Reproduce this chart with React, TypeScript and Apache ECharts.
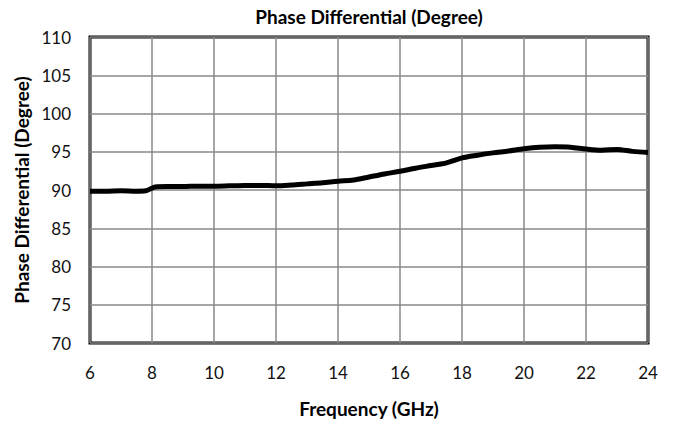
import React, { useEffect, useRef } from "react";
import * as echarts from "echarts";

const frequency = [6, 6.5, 7, 7.5, 7.8, 8.1, 8.5, 9, 9.5, 10, 10.5, 11, 11.5, 12, 12.5, 13, 13.5, 14, 14.5, 15, 15.5, 16, 16.5, 17, 17.5, 18, 18.5, 19, 19.5, 20, 20.5, 21, 21.5, 22, 22.5, 23, 23.5, 24];
const phase = [89.85, 89.85, 89.9, 89.85, 89.9, 90.4, 90.45, 90.45, 90.5, 90.5, 90.55, 90.6, 90.6, 90.55, 90.65, 90.8, 90.95, 91.15, 91.3, 91.7, 92.1, 92.45, 92.85, 93.2, 93.55, 94.2, 94.55, 94.85, 95.1, 95.4, 95.6, 95.65, 95.6, 95.35, 95.2, 95.3, 95.05, 94.9];

const FONT = "Lato, 'Open Sans', sans-serif";

export default function App() {
  const ref = useRef<HTMLDivElement>(null);
  useEffect(() => {
    if (!ref.current) return;
    const chart = echarts.init(ref.current, null, { renderer: "svg" });
    chart.setOption({
      animation: false,
      title: {
        text: "Phase Differential (Degree)",
        left: 369,
        textAlign: "center",
        top: 7,
        padding: 0,
        textStyle: { fontFamily: FONT, fontWeight: "bold", fontSize: 19, color: "#000" },
      },
      grid: {
        left: 90,
        right: 28,
        top: 37,
        bottom: 78,
        show: true,
        borderColor: "#000",
        borderWidth: 3,
        backgroundColor: "transparent",
      },
      xAxis: {
        type: "value",
        min: 6,
        max: 24,
        interval: 2,
        name: "Frequency (GHz)",
        nameLocation: "middle",
        nameGap: 56,
        nameTextStyle: { fontFamily: FONT, fontWeight: "bold", fontSize: 19, color: "#000" },
        axisLine: { show: false },
        axisTick: { show: false },
        axisLabel: { fontFamily: FONT, fontSize: 17, color: "#111", margin: 21 },
        splitLine: { show: true, lineStyle: { color: "#888", width: 1.5 } },
      },
      yAxis: {
        type: "value",
        min: 70,
        max: 110,
        interval: 5,
        name: "Phase Differential (Degree)",
        nameLocation: "middle",
        nameGap: 58,
        nameTextStyle: { fontFamily: FONT, fontWeight: "bold", fontSize: 19, color: "#000" },
        axisLine: { show: false },
        axisTick: { show: false },
        axisLabel: { fontFamily: FONT, fontSize: 17, color: "#111", margin: 19 },
        splitLine: { show: true, lineStyle: { color: "#888", width: 1.5 } },
      },
      series: [
        {
          type: "line",
          data: frequency.map((f, i) => [f, phase[i]]),
          showSymbol: false,
          smooth: 0.3,
          lineStyle: { color: "#000", width: 5 },
        },
      ],
    });
    return () => chart.dispose();
  }, []);
  return (
    <div
      ref={ref}
      style={{ position: "absolute", left: 0, top: 0, width: 676, height: 423 }}
    />
  );
}
